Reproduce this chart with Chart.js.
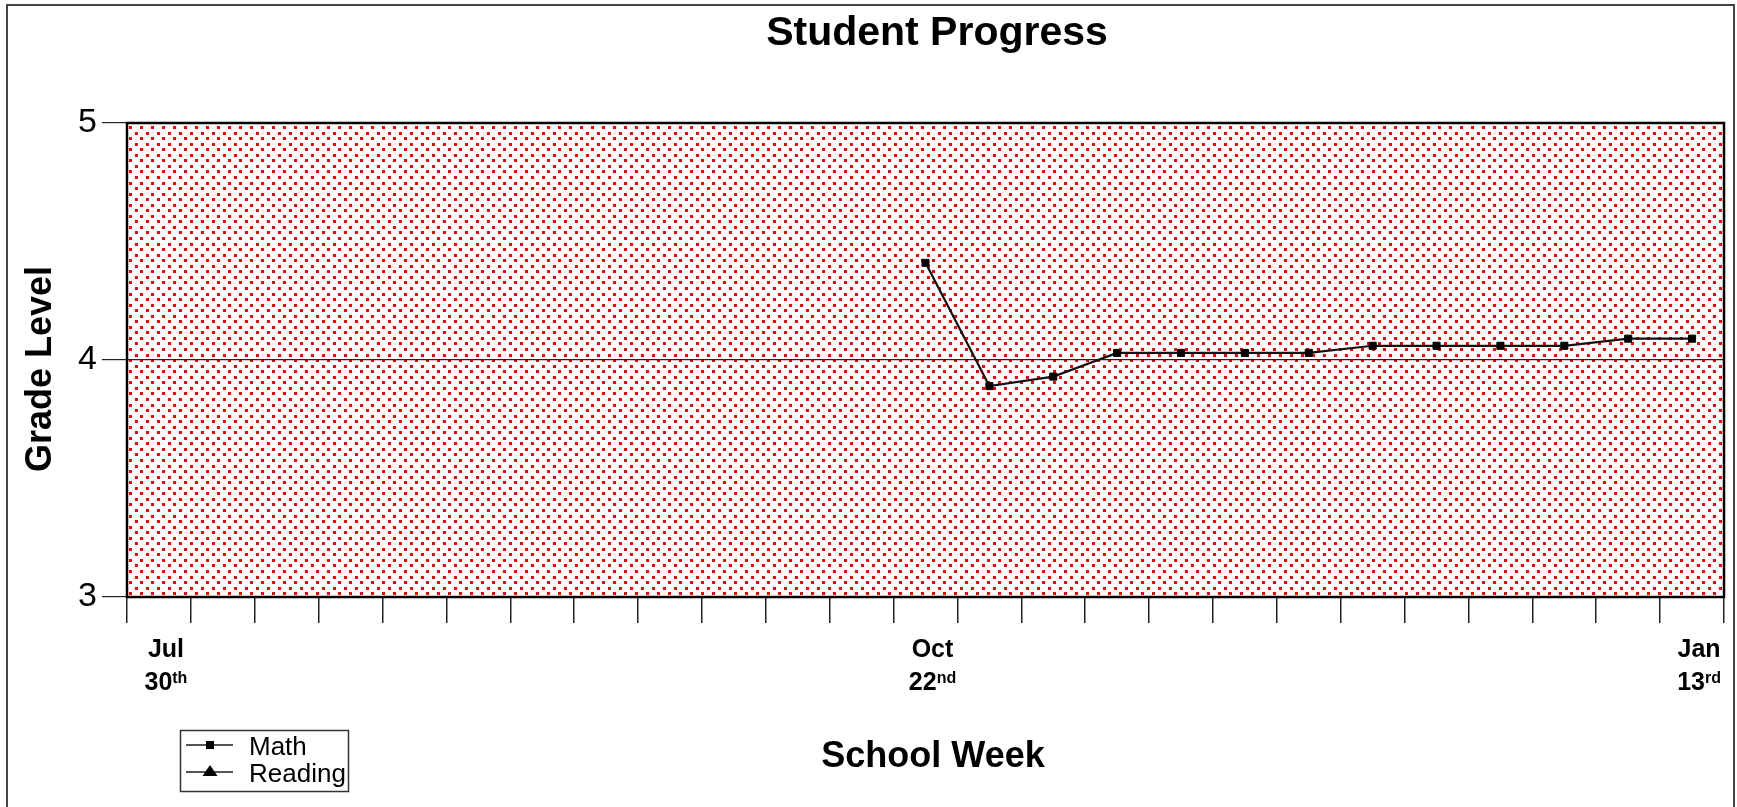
<!DOCTYPE html>
<html><head><meta charset="utf-8">
<script src="https://cdn.jsdelivr.net/npm/chart.js@4/dist/chart.umd.min.js"></script>
<style>html,body{margin:0;padding:0;background:#fff}canvas{display:block}</style>
</head><body>
<canvas id="c" width="1737" height="807" style="width:1737px;height:807px"></canvas>
<script>
// ---- data ----
const weeks = ['W1','W2','W3','W4','W5','W6','W7','W8','W9','W10','W11','W12','W13',
               'W14','W15','W16','W17','W18','W19','W20','W21','W22','W23','W24','W25'];
const mathGrade = [null,null,null,null,null,null,null,null,null,null,null,null,
                   4.41,3.89,3.93,4.03,4.03,4.03,4.03,4.06,4.06,4.06,4.06,4.09,4.09];
const readingGrade = [null,null,null,null,null,null,null,null,null,null,null,null,
                      null,null,null,null,null,null,null,null,null,null,null,null,null];
const seriesNames = ['Math','Reading'];
const yTickValues = [3,4,5];
const tickWeekIndex = [0,12,24];
const tickMonths = ['Jul','Oct','Jan'];
const tickDays = ['30','22','13'];
const tickSuffix = ['th','nd','rd'];
const chartTitle = 'Student Progress';
const xTitle = 'School Week';
const yTitle = 'Grade Level';

const FONT = '"Liberation Sans", Arial, Helvetica, sans-serif';

const backgroundPlugin = {
  id: 'bg',
  beforeDraw(chart) {
    const ctx = chart.ctx, a = chart.chartArea;
    ctx.save();
    ctx.fillStyle = '#fff';
    ctx.fillRect(0, 0, chart.width, chart.height);
    // outer frame
    ctx.strokeStyle = '#444';
    ctx.lineWidth = 2;
    ctx.strokeRect(7, 5, 1727, 900);
    // dotted plot background
    ctx.fillStyle = '#ff0000';
    const s = 5.55;
    let r = 0;
    for (let y = a.top + 3; y < a.bottom - 2; y += s, r++) {
      const x0 = a.left + 2 + (r % 2) * 5.5;
      for (let x = x0; x < a.right - 2; x += 11) {
        ctx.fillRect(Math.round(x), Math.round(y), 3, 3);
      }
    }
    ctx.restore();
  },
  afterDraw(chart) {
    const ctx = chart.ctx, a = chart.chartArea;
    const xs = chart.scales.x;
    ctx.save();
    // plot border
    ctx.strokeStyle = '#000';
    ctx.lineWidth = 2.5;
    ctx.strokeRect(a.left, a.top, a.right - a.left, a.bottom - a.top);
    ctx.fillStyle = '#000';
    // title
    ctx.font = 'bold 41px ' + FONT;
    ctx.textAlign = 'center';
    ctx.textBaseline = 'alphabetic';
    ctx.fillText(chartTitle, 937, 45);
    // x title
    ctx.font = 'bold 36px ' + FONT;
    ctx.fillText(xTitle, 933, 767);
    // y title
    ctx.save();
    ctx.translate(51, 369);
    ctx.rotate(-Math.PI / 2);
    ctx.fillText(yTitle, 0, 0);
    ctx.restore();
    // x tick labels
    for (let k = 0; k < tickWeekIndex.length; k++) {
      const cx = xs.getPixelForValue(tickWeekIndex[k]) + 7;
      ctx.textAlign = 'center';
      ctx.font = 'bold 25px ' + FONT;
      ctx.fillText(tickMonths[k], cx, 657);
      ctx.textAlign = 'left';
      const wd = ctx.measureText(tickDays[k]).width;
      ctx.font = 'bold 16px ' + FONT;
      const ws = ctx.measureText(tickSuffix[k]).width;
      const x0 = cx - (wd + ws) / 2;
      ctx.font = 'bold 25px ' + FONT;
      ctx.fillText(tickDays[k], x0, 690);
      ctx.font = 'bold 16px ' + FONT;
      ctx.fillText(tickSuffix[k], x0 + wd, 683);
    }
    // legend
    ctx.strokeStyle = '#333';
    ctx.lineWidth = 1.5;
    ctx.strokeRect(180.5, 730.5, 168, 61);
    const rows = [745, 772];
    chart.data.datasets.forEach((ds, i) => {
      const y = rows[i];
      ctx.strokeStyle = '#555';
      ctx.lineWidth = 2;
      ctx.beginPath(); ctx.moveTo(186, y); ctx.lineTo(233, y); ctx.stroke();
      ctx.fillStyle = '#000';
      if (ds.pointStyle === 'rect') {
        ctx.fillRect(206, y - 4, 8, 8);
      } else {
        ctx.beginPath();
        ctx.moveTo(210, y - 7); ctx.lineTo(217.5, y + 4); ctx.lineTo(202.5, y + 4);
        ctx.closePath(); ctx.fill();
      }
      ctx.font = '26px ' + FONT;
      ctx.textAlign = 'left';
      ctx.fillText(ds.label, 249, y + 9.5);
    });
    ctx.restore();
  }
};

new Chart(document.getElementById('c'), {
  type: 'line',
  data: {
    labels: weeks,
    datasets: [
      { label: seriesNames[0], data: mathGrade, borderColor: '#111', borderWidth: 2.2,
        pointStyle: 'rect', pointRadius: 5, pointBackgroundColor: '#000', pointBorderColor: '#000',
        pointBorderWidth: 1, tension: 0, spanGaps: false },
      { label: seriesNames[1], data: readingGrade, borderColor: '#111', borderWidth: 2,
        pointStyle: 'triangle', pointRadius: 6, pointBackgroundColor: '#000', pointBorderColor: '#000',
        tension: 0 }
    ]
  },
  options: {
    responsive: false,
    animation: false,
    devicePixelRatio: 1,
    layout: { padding: { top: 123, right: 13, bottom: 180, left: 0 } },
    plugins: { legend: { display: false }, tooltip: { enabled: false }, title: { display: false } },
    scales: {
      x: {
        type: 'category', offset: true,
        grid: { offset: true, drawOnChartArea: false, drawTicks: true, tickLength: 26, color: '#222', lineWidth: 1.5 },
        border: { display: false },
        ticks: { display: false, autoSkip: false },
        afterFit(s) { s.height = 30; }
      },
      y: {
        min: 3, max: 5,
        afterBuildTicks(s) { s.ticks = yTickValues.map(v => ({ value: v })); },
        ticks: { stepSize: 1, font: { size: 34, family: FONT }, color: '#000', padding: 5 },
        grid: { color: '#222', lineWidth: 1.2, tickLength: 25 },
        border: { display: false },
        afterFit(s) { s.width = 127; }
      }
    }
  },
  plugins: [backgroundPlugin]
});
</script>
</body></html>
